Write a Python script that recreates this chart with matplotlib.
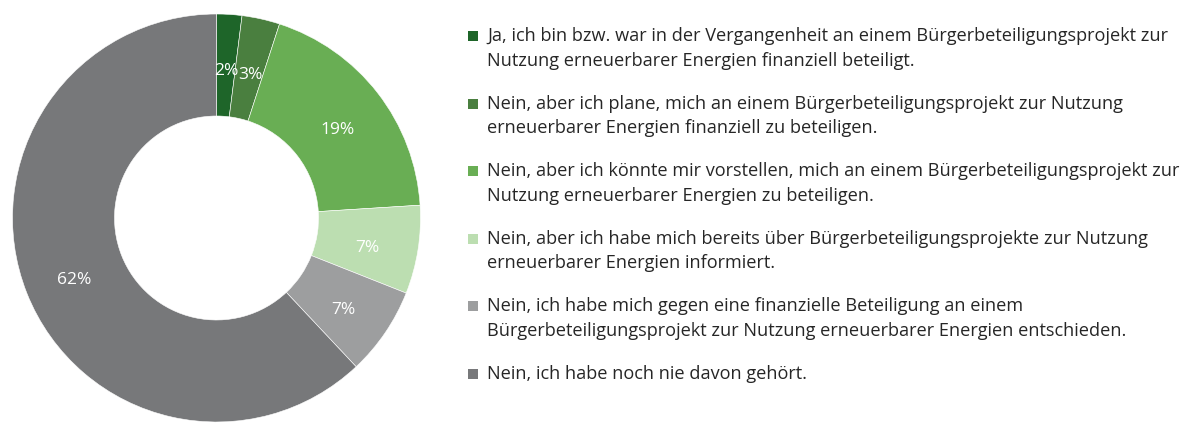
import matplotlib
matplotlib.use("Agg")
import matplotlib.pyplot as plt
from matplotlib.patches import Rectangle

plt.rcParams["font.family"] = ["Open Sans", "DejaVu Sans"]

# answer categories (legend text) and shares in percent
labels = [
    "Ja, ich bin bzw. war in der Vergangenheit an einem Bürgerbeteiligungsprojekt zur\nNutzung erneuerbarer Energien finanziell beteiligt.",
    "Nein, aber ich plane, mich an einem Bürgerbeteiligungsprojekt zur Nutzung\nerneuerbarer Energien finanziell zu beteiligen.",
    "Nein, aber ich könnte mir vorstellen, mich an einem Bürgerbeteiligungsprojekt zur\nNutzung erneuerbarer Energien zu beteiligen.",
    "Nein, aber ich habe mich bereits über Bürgerbeteiligungsprojekte zur Nutzung\nerneuerbarer Energien informiert.",
    "Nein, ich habe mich gegen eine finanzielle Beteiligung an einem\nBürgerbeteiligungsprojekt zur Nutzung erneuerbarer Energien entschieden.",
    "Nein, ich habe noch nie davon gehört.",
]
shares = [2, 3, 19, 7, 7, 62]
colors = ["#1e6529", "#4a7f3f", "#69ae54", "#bcdeb1", "#9d9e9f", "#77787a"]

W, H = 1181, 423
fig = plt.figure(figsize=(W / 100, H / 100), dpi=100)

# donut
cx, cy, R = 216.5, 205, 204
ax = fig.add_axes([(cx - R) / W, (cy - R) / H, 2 * R / W, 2 * R / H])
wedges, _, autotexts = ax.pie(
    shares,
    colors=colors,
    startangle=90,
    counterclock=False,
    autopct="%d%%",
    pctdistance=0.75,
    wedgeprops=dict(width=0.5, edgecolor="white", linewidth=0.4),
    textprops=dict(color="white", fontsize=12.5),
)
# labels sit a bit lower in the original
for t in autotexts:
    t.set_y(t.get_position()[1] - 0.03)
ax.set_xlim(-1, 1)
ax.set_ylim(-1, 1)
ax.set_aspect("equal")
ax.axis("off")

# legend drawn by hand: square + wrapped text, one text per line
tx, sq_x, sq = 487, 468, 10
y0, step, lh = 41, 67.6, 24.5  # baselines in pixels from top
for i, (lab, col) in enumerate(zip(labels, colors)):
    y = y0 + i * step
    for j, line in enumerate(lab.split("\n")):
        fig.text(tx / W, 1 - (y + j * lh) / H, line, ha="left", va="baseline",
                 fontsize=13.1, color="#262626")
    fig.patches.append(Rectangle((sq_x / W, 1 - y / H), sq / W, sq / H,
                                 transform=fig.transFigure, facecolor=col,
                                 edgecolor="none"))

fig.savefig("out.png", dpi=100, facecolor="white")
